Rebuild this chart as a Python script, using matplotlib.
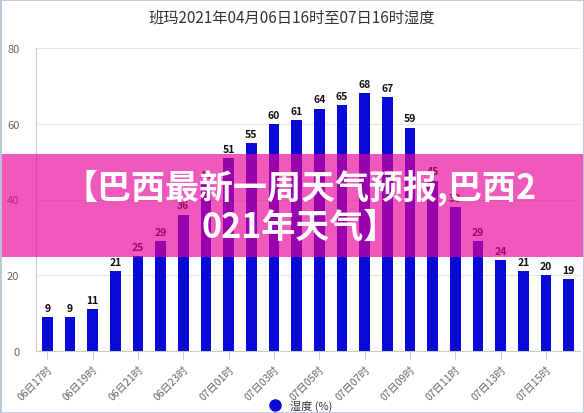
import matplotlib
matplotlib.use("Agg")
import matplotlib.pyplot as plt
from matplotlib.patches import Rectangle
from matplotlib.lines import Line2D

plt.rcParams['font.family'] = ['Noto Sans CJK SC', 'DejaVu Sans']

hours = ["06日17时", "06日18时", "06日19时", "06日20时", "06日21时", "06日22时",
         "06日23时", "07日00时", "07日01时", "07日02时", "07日03时", "07日04时",
         "07日05时", "07日06时", "07日07时", "07日08时", "07日09时", "07日10时",
         "07日11时", "07日12时", "07日13时", "07日14时", "07日15时", "07日16时"]
humidity = [9, 9, 11, 21, 25, 29, 36, 44, 51, 55, 60, 61, 64, 65, 68, 67, 59,
            45, 38, 29, 24, 21, 20, 19]
yticks = [0, 20, 40, 60, 80]
title = "班玛2021年04月06日16时至07日16时湿度"
legend_label = "湿度 (%)"
overlay_text = "【巴西最新一周天气预报,巴西2\n021年天气】"

W, H = 584, 414
fig = plt.figure(figsize=(W / 100, H / 100), dpi=100)
ax = fig.add_axes([36 / W, (H - 352) / H, (580 - 36) / W, (352 - 49) / H])

x = list(range(len(hours)))
bar_color = "#0a0ad6"
ax.bar(x, humidity, width=0.48, color=bar_color, zorder=3)
for xi, v in zip(x, humidity):
    ax.annotate(str(v), (xi, v), xytext=(0, 3), textcoords="offset points",
                ha="center", va="bottom", fontsize=7.5, fontweight="bold",
                color="#111111", zorder=4)

ax.set_xlim(-0.5, len(hours) - 0.5)
ax.set_ylim(0, 80)
ax.set_yticks(yticks)
ax.yaxis.grid(True, color="#e6e6e6", linewidth=0.8, zorder=0)
ax.tick_params(axis="y", length=0, pad=12, labelsize=8, labelcolor="#666666")
ax.set_xticks(x[::2])
ax.set_xticklabels(hours[::2], rotation=45, ha="right", va="top",
                   rotation_mode="anchor", fontsize=7.5, color="#666666")
ax.tick_params(axis="x", length=6, color="#cccccc", pad=3)
for s in ["top", "right"]:
    ax.spines[s].set_visible(False)
ax.spines["left"].set_color("#cccccc")
ax.spines["bottom"].set_color("#cccccc")

fig.text(292 / W, 1 - 18 / H, title, ha="center", va="center",
         fontsize=11, color="#333333")

handle = Line2D([], [], marker="o", linestyle="none", markersize=8,
                markerfacecolor=bar_color, markeredgecolor=bar_color)
fig.legend([handle], [legend_label], loc="center", bbox_to_anchor=(298 / W, 1 - 406 / H),
           frameon=False, fontsize=8, handletextpad=0.4, labelcolor="#333333")

# overlay banner
fig.patches.append(Rectangle((0, (H - 258) / H), 1, 103 / H, transform=fig.transFigure,
                             facecolor=(229 / 255, 0, 151 / 255), alpha=0.65,
                             edgecolor="none", zorder=10))
fig.text(300 / W, 1 - 207 / H, overlay_text, ha="center", va="center",
         fontsize=24.5, fontweight="bold", color="white", linespacing=1.15,
         zorder=11)

# frame
fig.patches.append(Rectangle((0, 0), 1, 1, transform=fig.transFigure, fill=False,
                             edgecolor="#b8c4d6", linewidth=2, zorder=12))

fig.savefig("out.png", dpi=100)
